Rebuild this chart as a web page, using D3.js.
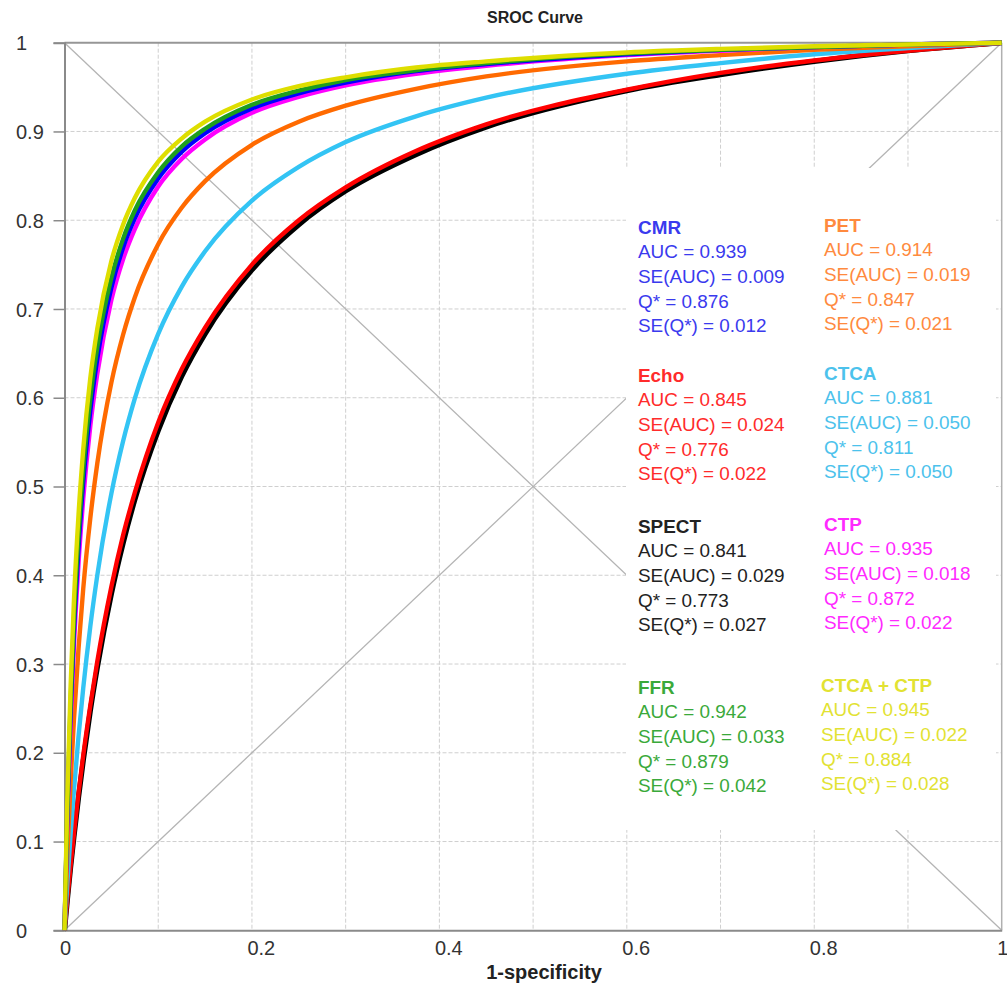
<!DOCTYPE html>
<html>
<head>
<meta charset="utf-8">
<script src="https://cdn.jsdelivr.net/npm/d3@7"></script>
<style>
  body { margin: 0; background: #fff; }
  svg { display: block; font-family: "Liberation Sans", Arial, sans-serif; }
</style>
</head>
<body>
<div id="chart"></div>
<script>
// false positive rate (1-specificity) where each curve was read
const fpr = [0, 0.003, 0.0065, 0.01, 0.015, 0.02, 0.0275, 0.035, 0.05, 0.0625, 0.075, 0.1,
             0.125, 0.15, 0.2, 0.25, 0.3, 0.375, 0.45, 0.6, 0.7, 0.8, 0.9, 1];

// sensitivity at the fpr points above
const cmr     = [0, .131, .246, .335, .432, .505, .585, .644, .724, .769, .802, .847, .877, .898, .926, .943, .955, .968, .976, .987, .992, .995, .998, 1];
const pet     = [0, .084, .167, .236, .318, .385, .464, .526, .617, .671, .713, .773, .814, .844, .885, .911, .929, .948, .962, .979, .986, .992, .996, 1];
const echo    = [0, .035, .073, .108, .155, .197, .253, .303, .387, .445, .493, .572, .632, .679, .750, .800, .837, .878, .908, .947, .966, .980, .991, 1];
const ctca    = [0, .053, .108, .157, .219, .273, .342, .400, .492, .551, .599, .672, .725, .765, .822, .860, .888, .917, .938, .965, .977, .987, .994, 1];
const spect   = [0, .034, .071, .105, .150, .191, .247, .296, .379, .436, .485, .563, .624, .672, .744, .795, .833, .874, .905, .946, .964, .979, .991, 1];
const ctp     = [0, .123, .233, .319, .414, .486, .568, .627, .710, .756, .790, .838, .869, .891, .921, .939, .952, .965, .974, .986, .991, .995, .998, 1];
const ffr     = [0, .137, .257, .348, .446, .519, .599, .657, .735, .779, .811, .854, .883, .903, .930, .946, .958, .969, .977, .988, .992, .995, .998, 1];
const ctcaCtp = [0, .149, .275, .370, .469, .542, .622, .678, .754, .795, .825, .866, .892, .911, .936, .951, .961, .972, .979, .989, .993, .996, .998, 1];

// legend order: left column then right column, row by row
const names  = ["CMR", "PET", "Echo", "CTCA", "SPECT", "CTP", "FFR", "CTCA + CTP"];
const auc    = ["0.939", "0.914", "0.845", "0.881", "0.841", "0.935", "0.942", "0.945"];
const seAuc  = ["0.009", "0.019", "0.024", "0.050", "0.029", "0.018", "0.033", "0.022"];
const qStar  = ["0.876", "0.847", "0.776", "0.811", "0.773", "0.872", "0.879", "0.884"];
const seQ    = ["0.012", "0.021", "0.022", "0.050", "0.027", "0.022", "0.042", "0.028"];
const curves = [cmr, pet, echo, ctca, spect, ctp, ffr, ctcaCtp];

const lineColors = ["#0000ff", "#ff6a00", "#ff0000", "#33c4f4", "#000000", "#ff00ff", "#1e9e1e", "#dede00"];
const textColors = ["#3a3aee", "#ff8a3e", "#ff2b2b", "#4cc2ec", "#222222", "#ff2aff", "#3aa93a", "#e2e232"];

const yTicks = [0, 0.1, 0.2, 0.3, 0.4, 0.5, 0.6, 0.7, 0.8, 0.9, 1];
const yTickLabels = ["0", "0.1", "0.2", "0.3", "0.4", "0.5", "0.6", "0.7", "0.8", "0.9", "1"];
const xTicks = [0, 0.2, 0.4, 0.6, 0.8, 1];
const xTickLabels = ["0", "0.2", "0.4", "0.6", "0.8", "1"];
const gridVals = [0.1, 0.2, 0.3, 0.4, 0.5, 0.6, 0.7, 0.8, 0.9];

const W = 1007, H = 985;
const plotLeft = 64.5, plotRight = 1001.7, plotTop = 42.7, plotBottom = 930.3;

const svg = d3.select('#chart').append('svg')
  .attr('width', W)
  .attr('height', H);

const x = d3.scaleLinear().domain([0, 1]).range([plotLeft, plotRight]);
const y = d3.scaleLinear().domain([0, 1]).range([plotBottom, plotTop]);

// grid
svg.append('g').selectAll('line')
  .data(gridVals).enter().append('line')
  .attr('x1', plotLeft).attr('x2', plotRight)
  .attr('y1', d => y(d)).attr('y2', d => y(d))
  .attr('stroke', '#cfcfcf').attr('stroke-width', 1)
  .attr('stroke-dasharray', '4,2');
svg.append('g').selectAll('line')
  .data(gridVals).enter().append('line')
  .attr('y1', plotTop).attr('y2', plotBottom)
  .attr('x1', d => x(d)).attr('x2', d => x(d))
  .attr('stroke', '#cfcfcf').attr('stroke-width', 1)
  .attr('stroke-dasharray', '4,2');

// diagonals
svg.append('line')
  .attr('x1', x(0)).attr('y1', y(0)).attr('x2', x(1)).attr('y2', y(1))
  .attr('stroke', '#b4b4b4').attr('stroke-width', 1.3);
svg.append('line')
  .attr('x1', x(0)).attr('y1', y(1)).attr('x2', x(1)).attr('y2', y(0))
  .attr('stroke', '#b4b4b4').attr('stroke-width', 1.3);

// legend panel hides grid and diagonals
svg.append('rect')
  .attr('x', 626).attr('y', 168)
  .attr('width', 370).attr('height', 662)
  .attr('fill', '#fff');

// frame
svg.append('line')
  .attr('x1', plotLeft).attr('x2', plotRight).attr('y1', plotTop).attr('y2', plotTop)
  .attr('stroke', '#969696').attr('stroke-width', 2);
svg.append('line')
  .attr('x1', plotRight).attr('x2', plotRight).attr('y1', plotTop).attr('y2', plotBottom)
  .attr('stroke', '#b0b0b0').attr('stroke-width', 1.5);

// axes
const yAxis = d3.axisLeft(y)
  .tickValues(yTicks)
  .tickSize(11)
  .tickFormat((d, i) => yTickLabels[i]);
const gy = svg.append('g')
  .attr('transform', `translate(${plotLeft},0)`)
  .call(yAxis);
gy.select('.domain').attr('stroke', '#8a8a8a').attr('stroke-width', 2);
gy.selectAll('.tick line').attr('stroke', '#8a8a8a').attr('stroke-width', 1.5);
gy.selectAll('.tick text')
  .attr('x', 16 - plotLeft)
  .attr('dy', '0.36em')
  .attr('text-anchor', 'start')
  .attr('font-size', 20)
  .attr('fill', '#333')
  .attr('font-family', '"Liberation Sans", Arial, sans-serif');

const xAxis = d3.axisBottom(x)
  .tickValues(xTicks)
  .tickSize(0)
  .tickFormat((d, i) => xTickLabels[i]);
const gx = svg.append('g')
  .attr('transform', `translate(0,${plotBottom})`)
  .call(xAxis);
gx.select('.domain').attr('stroke', '#8a8a8a').attr('stroke-width', 2);
gx.selectAll('.tick text')
  .attr('x', -5)
  .attr('y', 25)
  .attr('dy', 0)
  .attr('text-anchor', 'start')
  .attr('font-size', 20)
  .attr('fill', '#333')
  .attr('font-family', '"Liberation Sans", Arial, sans-serif');

// curves, drawn so the best ones lie on top
const line = d3.line()
  .x((d, i) => x(fpr[i]))
  .y(d => y(d))
  .curve(d3.curveMonotoneX);
const drawOrder = [4, 2, 3, 1, 5, 0, 6, 7];
drawOrder.forEach(k => {
  svg.append('path')
    .datum(curves[k])
    .attr('fill', 'none')
    .attr('stroke', lineColors[k])
    .attr('stroke-width', k === 4 ? 5.2 : 4.4)
    .attr('stroke-linejoin', 'round')
    .attr('d', line);
});

// legend text
const rowTop = [227, 375, 526, 687];
const colX = [638, 824];
names.forEach((n, i) => {
  const cx = colX[i % 2] - (i === 7 ? 3 : 0);
  const cy = rowTop[Math.floor(i / 2)] - (i % 2) * 2;
  const g = svg.append('g').attr('font-size', 18.9);
  const rows = [n, `AUC = ${auc[i]}`, `SE(AUC) = ${seAuc[i]}`, `Q* = ${qStar[i]}`, `SE(Q*) = ${seQ[i]}`];
  rows.forEach((t, j) => {
    g.append('text')
      .attr('x', cx)
      .attr('y', cy + j * 24.6)
      .attr('dy', '0.36em')
      .attr('font-weight', j === 0 ? 'bold' : 'normal')
      .attr('fill', textColors[i])
      .text(t);
  });
});

// titles
svg.append('text')
  .attr('x', 535).attr('y', 23)
  .attr('text-anchor', 'middle')
  .attr('font-weight', 'bold')
  .attr('font-size', 16)
  .attr('fill', '#222')
  .text('SROC Curve');
svg.append('text')
  .attr('x', 544).attr('y', 979)
  .attr('text-anchor', 'middle')
  .attr('font-weight', 'bold')
  .attr('font-size', 20)
  .attr('fill', '#222')
  .text('1-specificity');
</script>
</body>
</html>
